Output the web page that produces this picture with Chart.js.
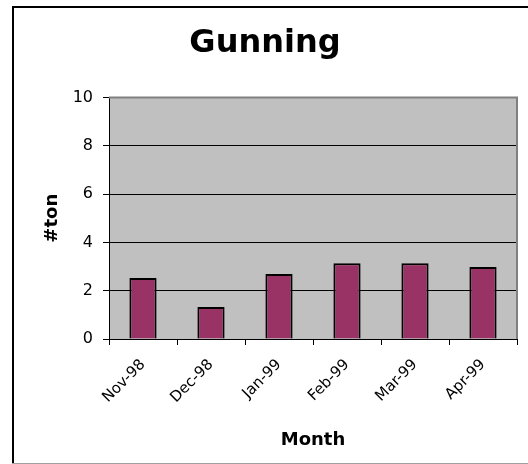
<!DOCTYPE html>
<html>
<head>
<meta charset="utf-8">
<script src="https://cdn.jsdelivr.net/npm/chart.js@4/dist/chart.umd.min.js"></script>
<style>
  html, body { margin: 0; background: #fff; }
  canvas { display: block; }
</style>
</head>
<body>
<canvas id="chart" width="528" height="464"></canvas>
<script>
const months = ['Nov-98', 'Dec-98', 'Jan-99', 'Feb-99', 'Mar-99', 'Apr-99'];
const tons = [2.52, 1.32, 2.69, 3.14, 3.14, 2.98];
const yMin = 0, yMax = 10, yStep = 2;

Chart.defaults.font.family = '"DejaVu Sans", sans-serif';
Chart.defaults.color = '#000';

// white page, outer frame and grey plot background
const framePlugin = {
    id: 'frame',
    beforeDraw(chart) {
        const ctx = chart.ctx;
        const a = chart.chartArea;
        ctx.save();
        ctx.fillStyle = '#fff';
        ctx.fillRect(0, 0, chart.width, chart.height);
        ctx.fillStyle = '#000';
        ctx.fillRect(12, 6, 2, chart.height - 6);
        ctx.fillRect(12, 6, chart.width - 12, 2);
        ctx.fillStyle = '#a0a0a0';
        ctx.fillRect(12, chart.height - 1, chart.width - 12, 1);
        ctx.fillStyle = '#c0c0c0';
        ctx.fillRect(a.left, a.top, a.right - a.left, a.bottom - a.top);
        ctx.restore();
    },
    afterDraw(chart) {
        const ctx = chart.ctx;
        const a = chart.chartArea;
        ctx.save();
        ctx.strokeStyle = '#808080';
        ctx.lineWidth = 2;
        ctx.beginPath();
        ctx.moveTo(a.left, a.top);
        ctx.lineTo(a.right, a.top);
        ctx.lineTo(a.right, a.bottom);
        ctx.stroke();
        ctx.restore();
    }
};

new Chart(document.getElementById('chart'), {
    type: 'bar',
    data: {
        labels: months,
        datasets: [{
            label: '#ton',
            data: tons,
            backgroundColor: '#993366',
            borderColor: '#000',
            borderWidth: 2,
            barPercentage: 0.4,
            categoryPercentage: 1
        }]
    },
    options: {
        responsive: false,
        animation: false,
        devicePixelRatio: 1,
        layout: { padding: { left: 13, right: 11, top: 0, bottom: 0 } },
        plugins: {
            legend: { display: false },
            tooltip: { enabled: false },
            title: {
                display: true,
                text: 'Gunning',
                color: '#000',
                font: { size: 32, weight: 'bold' },
                padding: { top: 24, bottom: 35 }
            }
        },
        scales: {
            x: {
                grid: { drawOnChartArea: false, color: '#000', tickLength: 6 },
                border: { color: '#000', width: 1 },
                ticks: { minRotation: 45, maxRotation: 45, font: { size: 15 }, color: '#000', padding: 11 },
                title: { display: true, text: 'Month', font: { size: 18, weight: 'bold' }, color: '#000', padding: { top: 0, bottom: 13 } },
                afterFit(scale) { scale.height = 125; }
            },
            y: {
                min: yMin,
                max: yMax,
                grid: { color: '#000', lineWidth: 1, tickLength: 6 },
                border: { color: '#000', width: 1 },
                ticks: { stepSize: yStep, font: { size: 16 }, color: '#000', padding: 10 },
                title: { display: true, text: '#ton', font: { size: 18, weight: 'bold' }, color: '#000', padding: { top: 29, bottom: 0 } },
                afterFit(scale) { scale.width = 96; }
            }
        }
    },
    plugins: [framePlugin]
});
</script>
</body>
</html>
